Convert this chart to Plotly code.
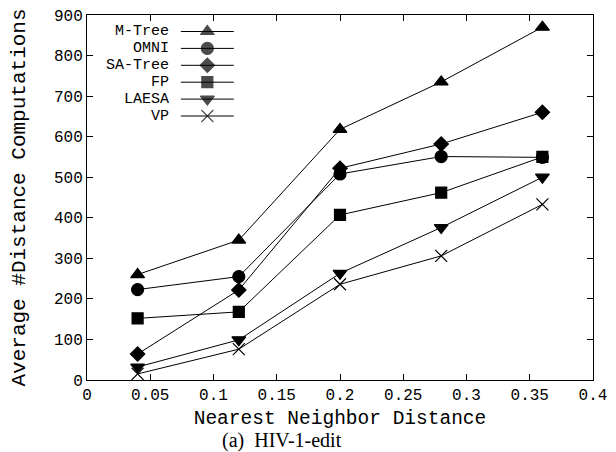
import plotly.graph_objects as go

# ---- data ----
nn_distance = [0.04, 0.12, 0.20, 0.28, 0.36]
series_names = ["M-Tree", "OMNI", "SA-Tree", "FP", "LAESA", "VP"]
mtree = [260, 345, 618, 735, 870]
omni = [223, 255, 508, 551, 549]
satree = [64, 222, 522, 582, 660]
fp = [152, 168, 407, 462, 550]
laesa = [32, 99, 263, 376, 500]
vp = [15, 76, 236, 306, 433]
x_ticks = [0, 0.05, 0.1, 0.15, 0.2, 0.25, 0.3, 0.35, 0.4]
x_ticklabels = ["0", "0.05", "0.1", "0.15", "0.2", "0.25", "0.3", "0.35", "0.4"]
y_ticks = [0, 100, 200, 300, 400, 500, 600, 700, 800, 900]

values = [mtree, omni, satree, fp, laesa, vp]
symbols = ["triangle-up", "circle", "diamond", "square", "triangle-down", "x-thin-open"]
sizes = [12, 12, 11, 11, 12, 12]

MONO = "Liberation Mono, Courier New, monospace"
SERIF = "Liberation Serif, Times New Roman, serif"

fig = go.Figure()
for name, ys, sym, sz in zip(series_names, values, symbols, sizes):
    fig.add_trace(go.Scatter(
        x=nn_distance, y=ys, name=name, mode="lines+markers",
        line=dict(color="black", width=1),
        marker=dict(symbol=sym, size=sz, color="black",
                    line=dict(color="black", width=1.2)),
        showlegend=False,
    ))

# ---- custom legend (text to the left of sample) on overlay axis in pixel units ----
row0, step = 16.5, 16.9
for i, (name, sym, sz) in enumerate(zip(series_names, symbols, sizes)):
    yy = 365 - row0 - i * step
    fig.add_trace(go.Scatter(
        x=[94, 120.5, 147], y=[yy, yy, yy], mode="lines+markers",
        xaxis="x2", yaxis="y2", showlegend=False, hoverinfo="skip",
        line=dict(color="black", width=1),
        marker=dict(symbol=sym, size=[0, sz, 0], color="black",
                    line=dict(color="black", width=1.2)),
    ))
    fig.add_annotation(x=84, y=yy, xref="x2", yref="y2", text=name,
                       showarrow=False, xanchor="right", yanchor="middle",
                       font=dict(family=MONO, size=15, color="black"))

axis_common = dict(showgrid=False, zeroline=False, showline=True,
                   linecolor="black", linewidth=1, mirror="ticks",
                   ticks="inside", ticklen=6, tickcolor="black", tickwidth=1,
                   automargin=False, ticklabeloverflow="allow",
                   tickfont=dict(family=MONO, size=16, color="black"))

# page body has an 8px margin, so the figure is sized/offset to place the plot
# area at the same pixels as the reference
fig.update_layout(
    width=608, height=444,
    margin=dict(l=79, r=23, t=7, b=72, autoexpand=False),
    paper_bgcolor="white", plot_bgcolor="white",
    xaxis=dict(range=[0, 0.4], tickvals=x_ticks, ticktext=x_ticklabels,
               title=dict(text="Nearest Neighbor Distance", standoff=6,
                          font=dict(family=MONO, size=19.5, color="black")),
               **axis_common),
    yaxis=dict(range=[0, 900], tickvals=y_ticks,
               title=dict(text="Average #Distance Computations", standoff=25,
                          font=dict(family=MONO, size=21, color="black")),
               **axis_common),
    xaxis2=dict(range=[0, 506.6], overlaying="x", visible=False, fixedrange=True),
    yaxis2=dict(range=[0, 365], overlaying="y", visible=False, fixedrange=True),
)

fig.add_annotation(x=0.385, y=-0.167, xref="paper", yref="paper",
                   text="(a)  HIV-1-edit", showarrow=False,
                   xanchor="center", yanchor="middle",
                   font=dict(family=SERIF, size=20, color="black"))

fig.write_html("out.html")
